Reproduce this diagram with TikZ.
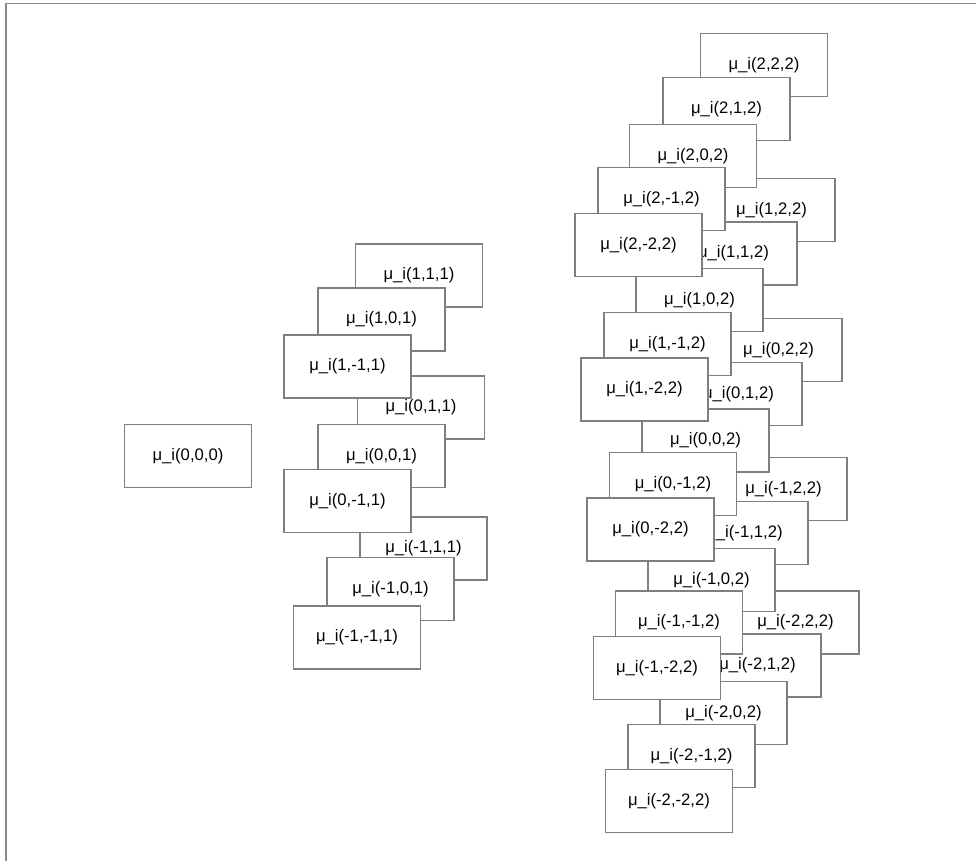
\documentclass[tikz,border=0pt]{standalone}
\usepackage{fontspec}
\setmainfont{Liberation Sans}
\definecolor{edgegray}{HTML}{7F7F7F}
\definecolor{framegray}{HTML}{8A8A8A}
\begin{document}
\begin{tikzpicture}[x=0.75pt,y=-0.75pt,
  mubox/.style={draw=edgegray, line width=0.8pt, fill=white, rectangle,
    minimum width=95.25pt, minimum height=47.25pt, inner sep=0pt,
    font=\fontsize{12.5}{15}\selectfont},
  frame/.style={draw=framegray, line width=1.1pt}]
\useasboundingbox (0,0) rectangle (976,861);
% page frame (top and left rules)
\coordinate (fa) at (6,861);
\coordinate (fb) at (6,3.5);
\coordinate (fc) at (976,3.5);
\draw[frame] (fa) -- (fb) -- (fc);

% level 0
\node[mubox] (n000) at (188,456) {μ\_i(0,0,0)};

% level 1: back rows first, front rows last
\node[mubox] (nm111)  at (423.5,548.5) {μ\_i(-1,1,1)};
\node[mubox] (nm101)  at (390.5,589)   {μ\_i(-1,0,1)};
\node[mubox] (nm1m11) at (357,637.5)   {μ\_i(-1,-1,1)};
\node[mubox] (n011)   at (421,407.5)   {μ\_i(0,1,1)};
\node[mubox] (n001)   at (381.5,456)   {μ\_i(0,0,1)};
\node[mubox] (n0m11)  at (347.5,501)   {μ\_i(0,-1,1)};
\node[mubox] (n111)   at (419,275.5)   {μ\_i(1,1,1)};
\node[mubox] (n101)   at (381.5,319.5) {μ\_i(1,0,1)};
\node[mubox] (n1m11)  at (347.5,366.5) {μ\_i(1,-1,1)};

% level 2
\node[mubox] (nm222)   at (795.5,622.5) {μ\_i(-2,2,2)};
\node[mubox] (nm212)   at (757.5,665.5) {μ\_i(-2,1,2)};
\node[mubox] (nm202)   at (723.5,713)   {μ\_i(-2,0,2)};
\node[mubox] (nm2m12)  at (691.5,756)   {μ\_i(-2,-1,2)};
\node[mubox] (nm2m22)  at (669,801)     {μ\_i(-2,-2,2)};
\node[mubox] (nm122)   at (783.5,489)   {μ\_i(-1,2,2)};
\node[mubox] (nm112)   at (744.5,533)   {μ\_i(-1,1,2)};
\node[mubox] (nm102)   at (711.5,580)   {μ\_i(-1,0,2)};
\node[mubox] (nm1m12)  at (679,622.5)   {μ\_i(-1,-1,2)};
\node[mubox] (nm1m22)  at (657,668)     {μ\_i(-1,-2,2)};
\node[mubox] (n022)    at (778.5,350)   {μ\_i(0,2,2)};
\node[mubox] (n012)    at (738.5,394)   {μ\_i(0,1,2)};
\node[mubox] (n002)    at (705.5,440.5) {μ\_i(0,0,2)};
\node[mubox] (n0m12)   at (673,484)     {μ\_i(0,-1,2)};
\node[mubox] (n0m22)   at (650.5,529.5) {μ\_i(0,-2,2)};
\node[mubox] (n122)    at (771.5,210)   {μ\_i(1,2,2)};
\node[mubox] (n112)    at (733.5,253.5) {μ\_i(1,1,2)};
\node[mubox] (n102)    at (699.5,300)   {μ\_i(1,0,2)};
\node[mubox] (n1m12)   at (667.5,344)   {μ\_i(1,-1,2)};
\node[mubox] (n1m22)   at (644.5,389.5) {μ\_i(1,-2,2)};
\node[mubox] (n222)    at (764,65)      {μ\_i(2,2,2)};
\node[mubox] (n212)    at (726.5,109)   {μ\_i(2,1,2)};
\node[mubox] (n202)    at (693,156)     {μ\_i(2,0,2)};
\node[mubox] (n2m12)   at (661.5,199)   {μ\_i(2,-1,2)};
\node[mubox] (n2m22)   at (638.5,245)   {μ\_i(2,-2,2)};
\end{tikzpicture}
\end{document}
